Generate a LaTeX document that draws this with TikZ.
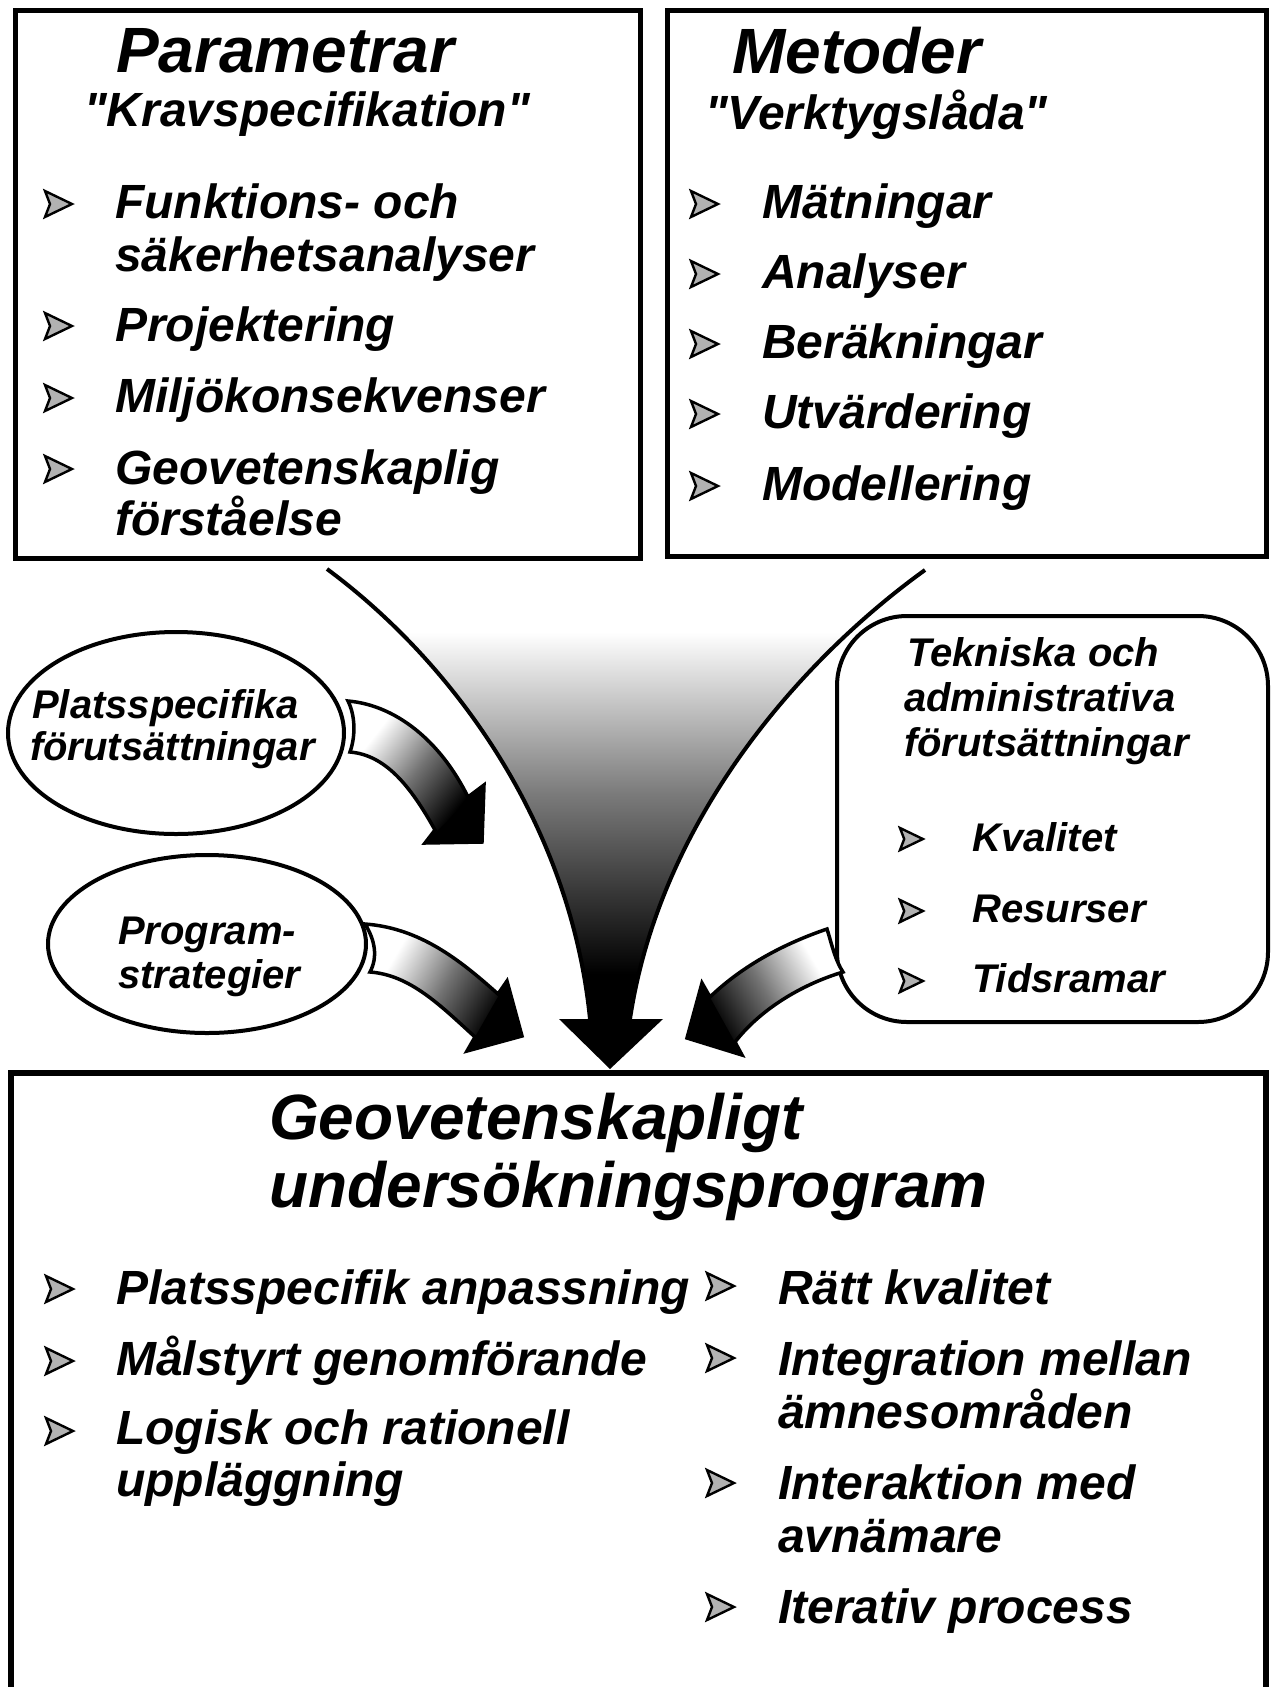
\documentclass[tikz,border=0pt]{standalone}
\usepackage{fontspec}
\setmainfont{Liberation Sans}
\newfontfamily\qfont{Liberation Sans}
\usetikzlibrary{shapes.geometric}
\pgfdeclareverticalshading{funnelshade}{100bp}{color(0bp)=(black); color(30bp)=(black); color(50bp)=(black!52); color(68bp)=(white); color(100bp)=(white)}
\pgfdeclareverticalshading{arrowshade}{100bp}{color(0bp)=(black); color(30bp)=(black); color(50bp)=(black!55); color(70bp)=(white); color(100bp)=(white)}
\newcommand{\qt}{{\qfont "}}
\begin{document}
\begin{tikzpicture}[x=1pt,y=-1pt,
  boxline/.style={draw=black, line width=5pt, inner sep=0pt},
  ovalbox/.style={ellipse, draw=black, line width=4pt, inner sep=0pt},
  t64/.style={font=\fontsize{64}{70}\selectfont\bfseries\itshape, inner sep=0pt, anchor=base west},
  t48/.style={font=\fontsize{48}{53}\selectfont\bfseries\itshape, inner sep=0pt, anchor=base west},
  t40/.style={font=\fontsize{40}{44}\selectfont\bfseries\itshape, inner sep=0pt, anchor=base west},
  curveline/.style={draw=black, line width=4pt},
  blockarrow/.style={draw=black, line width=3.5pt, line join=miter, shading=arrowshade},
  bullet/.pic={\filldraw[fill=gray!60, draw=black, line width=2.4pt, line join=miter]
     (14,0) -- (-13,-13) -- (-8,0) -- (-13,13) -- cycle;},
]
\useasboundingbox (0,0) rectangle (1273,1687);
\clip (0,0) rectangle (1273,1687);
\fill[white] (0,0) rectangle (1273,1687);

% ---------- top boxes ----------
\node[boxline, minimum width=625pt, minimum height=548pt] (parbox) at (327.5,284) {};
\node[boxline, minimum width=599pt, minimum height=546pt] (metbox) at (966.5,283) {};

\node[t64] (parT) at (116,72) {Parametrar};
\node[t48] (parS) at (84,126) {\qt Kravspecifikation\qt};
\pic at (58,204) {bullet};
\pic at (58,326) {bullet};
\pic at (58,398) {bullet};
\pic at (58,469) {bullet};
\node[t48] (pa1) at (115,218) {Funktions- och};
\node[t48] (pa2) at (115,271) {säkerhetsanalyser};
\node[t48] (pa3) at (115,341) {Projektering};
\node[t48] (pa4) at (115,412) {Miljökonsekvenser};
\node[t48] (pa5) at (115,484) {Geovetenskaplig};
\node[t48] (pa6) at (115,535) {förståelse};

\node[t64] (metT) at (732,73) {Metoder};
\node[t48] (metS) at (705,129) {\qt Verktygslåda\qt};
\pic at (704,204) {bullet};
\pic at (704,274) {bullet};
\pic at (704,344) {bullet};
\pic at (704,414) {bullet};
\pic at (704,486) {bullet};
\node[t48] (me1) at (762,218) {Mätningar};
\node[t48] (me2) at (762,288) {Analyser};
\node[t48] (me3) at (762,358) {Beräkningar};
\node[t48] (me4) at (762,428) {Utvärdering};
\node[t48] (me5) at (762,500) {Modellering};

% ---------- funnel ----------
\coordinate (fL) at (327,569);
\coordinate (fR) at (925,570);
\coordinate (sL) at (590,1019);
\coordinate (sR) at (630,1019);
\shade[shading=funnelshade]
  (fL) .. controls (450,660) and (570,820) .. (sL) -- (sR)
  .. controls (660,820) and (800,660) .. (fR) -- cycle;
\draw[curveline] (fL) .. controls (450,660) and (570,820) .. (sL);
\draw[curveline] (fR) .. controls (800,660) and (660,820) .. (sR);
\fill[black] (sL) -- (559,1019) -- (610,1069) -- (663,1019) -- (sR) -- (629,1010) -- (591,1010) -- cycle;

% ---------- side shapes ----------
\node[ovalbox, minimum width=336pt, minimum height=202pt] (plats) at (176,733) {};
\node[t40] (pl1) at (32,718) {Platsspecifika};
\node[t40] (pl2) at (30,760) {förutsättningar};

\node[ovalbox, minimum width=318pt, minimum height=178pt] (progs) at (207,944) {};
\node[t40] (pr1) at (118,944) {Program-};
\node[t40] (pr2) at (118,988) {strategier};

\node[draw=black, line width=4pt, rounded corners=70pt, minimum width=431pt, minimum height=406pt] (tekbox) at (1052.5,819) {};
\node[t40] (te1) at (907,666) {Tekniska och};
\node[t40] (te2) at (904,711) {administrativa};
\node[t40] (te3) at (904,756) {förutsättningar};
\pic[scale=0.85] at (911,839) {bullet};
\pic[scale=0.85] at (911,911) {bullet};
\pic[scale=0.85] at (911,981) {bullet};
\node[t40] (te4) at (972,851) {Kvalitet};
\node[t40] (te5) at (972,922) {Resurser};
\node[t40] (te6) at (972,992) {Tidsramar};

% ---------- block arrows ----------
% A: from Platsspecifika
\shadedraw[blockarrow, shading angle=52]
  (348,701) .. controls (395,705) and (440,740) .. (468,797) -- (484,785) -- (482,842)
  -- (425,843) -- (435,830) .. controls (410,785) and (385,755) .. (350,752)
  .. controls (356,735) and (355,715) .. (348,701) -- cycle;
\fill[black] (484,785) -- (482,842) -- (425,843) -- cycle;
% B: from Programstrategier
\shadedraw[blockarrow, shading angle=60]
  (365,924) .. controls (420,928) and (460,960) .. (498,994) -- (507,981) -- (522,1036)
  -- (467,1051) -- (475,1037) .. controls (440,1005) and (410,975) .. (370,972)
  .. controls (378,957) and (375,940) .. (365,924) -- cycle;
\fill[black] (507,981) -- (522,1036) -- (467,1051) -- cycle;
% C: from Tekniska
\shadedraw[blockarrow, shading angle=-60]
  (827,929) .. controls (780,945) and (740,968) .. (710,997) -- (702,983) -- (687,1038)
  -- (742,1055) -- (735,1042) .. controls (760,1010) and (800,985) .. (843,972)
  .. controls (835,960) and (832,945) .. (827,929) -- cycle;
\fill[black] (702,983) -- (687,1038) -- (742,1055) -- cycle;

% ---------- bottom box ----------
\coordinate (bTL) at (11,1073);
\coordinate (bTR) at (1266,1073);
\draw[line width=6pt] (11,1700) -- (bTL) -- (bTR) -- (1266,1700);
\node[t64] (goT1) at (269,1139) {Geovetenskapligt};
\node[t64] (goT2) at (269,1207) {undersökningsprogram};
\pic at (59,1289) {bullet};
\pic at (59,1361) {bullet};
\pic at (59,1431) {bullet};
\node[t48] (gl1) at (116,1304) {Platsspecifik anpassning};
\node[t48] (gl2) at (116,1375) {Målstyrt genomförande};
\node[t48] (gl3) at (116,1444) {Logisk och rationell};
\node[t48] (gl4) at (116,1496) {uppläggning};
\pic at (720,1286) {bullet};
\pic at (720,1358) {bullet};
\pic at (720,1483) {bullet};
\pic at (720,1607) {bullet};
\node[t48] (gr1) at (778,1304) {Rätt kvalitet};
\node[t48] (gr2) at (778,1375) {Integration mellan};
\node[t48] (gr3) at (778,1428) {ämnesområden};
\node[t48] (gr4) at (778,1499) {Interaktion med};
\node[t48] (gr5) at (778,1552) {avnämare};
\node[t48] (gr6) at (778,1623) {Iterativ process};
\end{tikzpicture}
\end{document}
